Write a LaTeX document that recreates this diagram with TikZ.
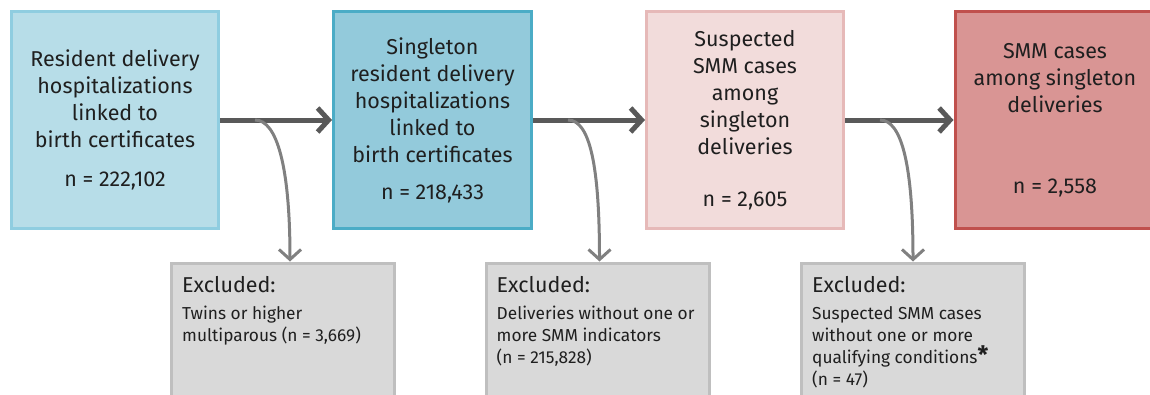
\documentclass[tikz,border=0pt]{standalone}
\usepackage{fontspec}
\setmainfont{Fira Sans}
\usepackage{tikz}
\usetikzlibrary{arrows.meta, calc, positioning}
\usepackage{xcolor}
\definecolor{paleblue}{HTML}{B7DDE8}
\definecolor{palebluerim}{HTML}{8FCDE0}
\definecolor{midblue}{HTML}{93CADB}
\definecolor{midbluerim}{HTML}{4BACC6}
\definecolor{palerose}{HTML}{F2DCDB}
\definecolor{paleroserim}{HTML}{E6B9B8}
\definecolor{deeprose}{HTML}{D99594}
\definecolor{deeproserim}{HTML}{C0504D}
\definecolor{exgrey}{HTML}{D9D9D9}
\definecolor{exgreyrim}{HTML}{BFBFBF}
\definecolor{flowgrey}{HTML}{595959}
\definecolor{sidegrey}{HTML}{808080}

\begin{document}
\begin{tikzpicture}[x=1pt,y=-1pt]
        \tikzstyle{stagebox}=[rectangle, line width=3pt, minimum height=217pt, align=center,
            font=\fontsize{21.5}{27}\selectfont, text=black!88]
        \tikzstyle{exbox}=[rectangle, line width=3pt, fill=exgrey, draw=exgreyrim,
            minimum width=223pt, minimum height=170pt, anchor=north]
        \tikzstyle{extext}=[anchor=north west, align=left, inner sep=0pt,
            font=\fontsize{17.3}{22}\selectfont, text=black!88]
        \tikzstyle{mainarrow}=[line width=5pt, flowgrey,
            -{Straight Barb[length=11pt,width=24pt,line width=5pt]}]
        \tikzstyle{sidearrow}=[line width=3pt, sidegrey,
            -{Straight Barb[length=10pt,width=22pt,line width=3pt]}]
        \useasboundingbox (0,0) rectangle (1150,394);
        \clip (0,0) rectangle (1150,394);
        % Stage boxes along the top
        \node[stagebox, fill=paleblue, draw=palebluerim, minimum width=207pt] (b1) at (115,120)
            {Resident delivery\\hospitalizations\\linked to\\birth certificates\\[12pt]n = 222,102};
        \node[stagebox, fill=midblue, draw=midbluerim, minimum width=198pt] (b2) at (432.5,120)
            {Singleton\\resident delivery\\hospitalizations\\linked to\\birth certificates\\[10pt]n = 218,433};
        \node[stagebox, fill=palerose, draw=paleroserim, minimum width=197pt] (b3) at (745,120)
            {Suspected\\SMM cases\\among\\singleton\\deliveries\\[25pt]n = 2,605};
        \node[stagebox, fill=deeprose, draw=deeproserim, minimum width=200pt] (b4) at (1055,120)
            {SMM cases\\among singleton\\deliveries\\[54pt]n = 2,558};
        % Excluded boxes below
        \node[exbox] (exA) at (283,261.5) {};
        \node[exbox] (exB) at (597.5,261.5) {};
        \node[exbox] (exC) at (913,261.5) {};
        \node[extext] (tA) at ($(exA.north west)+(12,15)$)
            {{\fontsize{21.5}{22}\selectfont Excluded:}\\[5pt]Twins or higher\\multiparous (n = 3,669)};
        \node[extext] (tB) at ($(exB.north west)+(12,15)$)
            {{\fontsize{21.5}{22}\selectfont Excluded:}\\[5pt]Deliveries without one or\\more SMM indicators\\(n = 215,828)};
        \node[extext] (tC) at ($(exC.north west)+(12,15)$)
            {{\fontsize{21.5}{22}\selectfont Excluded:}\\[5pt]Suspected SMM cases\\without one or more\\qualifying conditions{\fontsize{24}{22}\selectfont\bfseries*}\\(n = 47)};
        % Main flow
        \draw[mainarrow] (b1.east) -- (b2.west);
        \draw[mainarrow] (b2.east) -- (b3.west);
        \draw[mainarrow] (b3.east) -- (b4.west);
        % Branch points on the main arrows
        \coordinate (s1) at ($(b1.east)+(35,0)$);
        \coordinate (s2) at ($(b2.east)+(35,0)$);
        \coordinate (s3) at ($(b3.east)+(35,0)$);
        \draw[sidearrow] (s1) .. controls +(22,0) and +(0,-95) .. ([xshift=7pt]exA.north);
        \draw[sidearrow] (s2) .. controls +(22,0) and +(0,-95) .. ([xshift=2pt]exB.north);
        \draw[sidearrow] (s3) .. controls +(22,0) and +(0,-95) .. (exC.north);
\end{tikzpicture}
\end{document}
